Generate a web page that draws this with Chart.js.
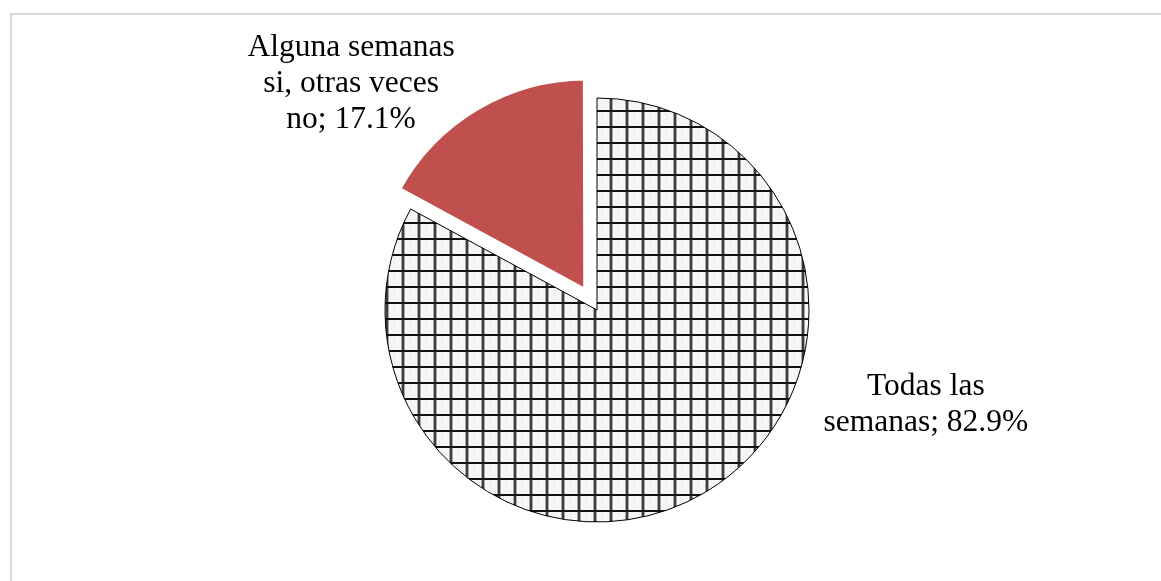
<!DOCTYPE html>
<html>
<head>
<meta charset="utf-8">
<script src="https://cdn.jsdelivr.net/npm/chart.js@4/dist/chart.umd.min.js"></script>
<style>
  html, body { margin: 0; padding: 0; background: #fff; }
  canvas { display: block; }
</style>
</head>
<body>
<canvas id="myChart" width="1161" height="581"></canvas>
<script>
const categories = ["Todas las semanas", "Alguna semanas si, otras veces no"];
const values = [82.9, 17.1];
const labelLines = [
  ["Todas las", "semanas; 82.9%"],
  ["Alguna semanas", "si, otras veces", "no; 17.1%"],
];

// square grid fill for the large slice
const makeGrid = () => {
  const tile = document.createElement("canvas");
  tile.width = 16;
  tile.height = 16;
  const c = tile.getContext("2d");
  c.fillStyle = "#f6f6f6";
  c.fillRect(0, 0, 16, 16);
  c.fillStyle = "#e4e4e4";
  for (let y = 1; y < 13; y += 2) c.fillRect(10, y, 1, 1);
  c.fillStyle = "#a8a8a8";
  c.fillRect(1, 0, 1, 16);
  c.fillRect(4, 0, 1, 16);
  c.fillStyle = "#3c3c3c";
  c.fillRect(2, 0, 2, 16);
  c.fillStyle = "#111";
  c.fillRect(0, 14, 16, 2);
  return c.createPattern(tile, "repeat");
};

const frame = {
  id: "frame",
  beforeDraw(chart) {
    const ctx = chart.ctx;
    ctx.save();
    ctx.fillStyle = "#fff";
    ctx.fillRect(0, 0, chart.width, chart.height);
    ctx.fillStyle = "#d9d9d9";
    ctx.fillRect(10, 13, chart.width, 2);
    ctx.fillRect(10, 13, 2, chart.height);
    ctx.restore();
  },
};

// category; percent labels placed around the pie
const sliceLabels = {
  id: "sliceLabels",
  afterDatasetsDraw(chart, args, opts) {
    const ctx = chart.ctx;
    const arcs = chart.getDatasetMeta(0).data;
    ctx.save();
    ctx.font = "31.5px 'Liberation Serif'";
    ctx.fillStyle = "#000";
    ctx.textAlign = "center";
    ctx.textBaseline = "middle";
    arcs.forEach((arc, i) => {
      const { outerRadius } = arc.getProps(["outerRadius"], true);
      const cx = (chart.chartArea.left + chart.chartArea.right) / 2;
      const cy = (chart.chartArea.top + chart.chartArea.bottom) / 2;
      const [fx, fy] = opts.anchors[i];
      const x = cx + fx * outerRadius;
      const y = cy + fy * outerRadius;
      const lines = labelLines[i];
      lines.forEach((t, k) => {
        ctx.fillText(t, x, y + (k - (lines.length - 1) / 2) * opts.lineHeight);
      });
    });
    ctx.restore();
  },
};

new Chart("myChart", {
  type: "pie",
  data: {
    labels: categories,
    datasets: [
      {
        data: values,
        backgroundColor: [makeGrid(), "#C0504D"],
        borderColor: ["#000", "#fff"],
        borderWidth: [1, 6],
        offset: [0, 84],
      },
    ],
  },
  options: {
    responsive: false,
    animation: false,
    radius: 212,
    layout: { padding: { left: 33, right: 0, top: 39, bottom: 0 } },
    plugins: {
      legend: { display: false },
      tooltip: { enabled: false },
      sliceLabels: { anchors: [[1.551, 0.448], [-1.16, -1.066]], lineHeight: 36 },
    },
  },
  plugins: [frame, sliceLabels],
});
</script>
</body>
</html>
